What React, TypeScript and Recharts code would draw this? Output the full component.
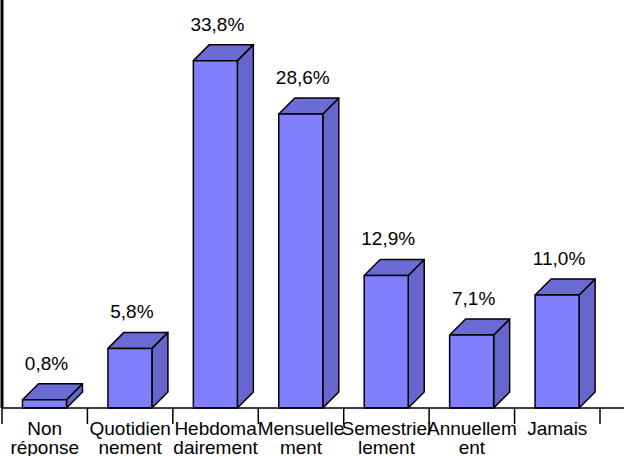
import React from 'react';
import { BarChart, Bar, XAxis, YAxis, LabelList } from 'recharts';

// fréquence d'utilisation (en %)
const categories = [
  'Non réponse',
  'Quotidiennement',
  'Hebdomadairement',
  'Mensuellement',
  'Semestriellement',
  'Annuellement',
  'Jamais',
];
const tickLines = [
  ['Non', 'réponse'],
  ['Quotidien', 'nement'],
  ['Hebdoma', 'dairement'],
  ['Mensuelle', 'ment'],
  ['Semestriel', 'lement'],
  ['Annuellem', 'ent'],
  ['Jamais'],
];
const values = [0.8, 5.8, 33.8, 28.6, 12.9, 7.1, 11.0];

const data = categories.map((name, i) => ({ name, value: values[i], lines: tickLines[i] }));

const W = 624;
const H = 456;
const Y_W = 2;
const RIGHT_PAD = 24;
const BAND = (W - Y_W - RIGHT_PAD) / categories.length;
const DEPTH = 16;
const FONT = '"Liberation Sans", Arial, sans-serif';
const FS = 19;

const FRONT = '#8080FF';
const TOP = '#6B6BD6';
const SIDE = '#6666CC';

function Bar3D(props: any) {
  const { x, y, width, height } = props;
  if (width == null || height == null) return null;
  const d = DEPTH;
  const b = y + height;
  return (
    <g stroke="#000" strokeWidth={1.5} strokeLinejoin="round">
      <polygon
        points={`${x + width},${y} ${x + width + d},${y - d} ${x + width + d},${b - d} ${x + width},${b}`}
        fill={SIDE}
      />
      <polygon
        points={`${x},${y} ${x + d},${y - d} ${x + width + d},${y - d} ${x + width},${y}`}
        fill={TOP}
      />
      <rect x={x} y={y} width={width} height={height} fill={FRONT} />
    </g>
  );
}

function ValueLabel(props: any) {
  const { x, y, width, value } = props;
  return (
    <text
      x={x + width / 2 + 2}
      y={y - 30}
      textAnchor="middle"
      fontSize={FS}
      fontFamily={FONT}
      fill="#000"
    >
      {value.toFixed(1).replace('.', ',')}%
    </text>
  );
}

function CategoryTick(props: any) {
  const { x, y, index } = props;
  const lines: string[] = tickLines[index] ?? [];
  const last = index === categories.length - 1;
  return (
    <g>
      <line x1={x - BAND / 2} y1={y} x2={x - BAND / 2} y2={y + 16} stroke="#000" strokeWidth={1.5} />
      {last && (
        <line x1={x + BAND / 2} y1={y} x2={x + BAND / 2} y2={y + 16} stroke="#000" strokeWidth={1.5} />
      )}
      {lines.map((t, i) => (
        <text
          key={i}
          x={x}
          y={y + 27 + i * 19}
          textAnchor="middle"
          fontSize={FS}
          fontFamily={FONT}
          fill="#000"
        >
          {t}
        </text>
      ))}
    </g>
  );
}

export default function App() {
  return (
    <div style={{ position: 'absolute', left: 0, top: 0, width: W, height: H, background: '#fff' }}>
      <BarChart
        width={W}
        height={H}
        data={data}
        margin={{ top: 0, right: 0, left: 0, bottom: 0 }}
        barCategoryGap="24%"
      >
        <XAxis
          dataKey="name"
          height={48}
          interval={0}
          tickLine={false}
          tickSize={0}
          tickMargin={0}
          padding={{ left: 0, right: RIGHT_PAD }}
          axisLine={{ stroke: '#000', strokeWidth: 1.5 }}
          tick={<CategoryTick />}
        />
        <YAxis
          width={Y_W}
          domain={[0, 39.7]}
          tick={false}
          tickLine={false}
          axisLine={{ stroke: '#000', strokeWidth: 3 }}
        />
        <Bar dataKey="value" shape={<Bar3D />} isAnimationActive={false}>
          <LabelList dataKey="value" content={<ValueLabel />} />
        </Bar>
      </BarChart>
    </div>
  );
}
